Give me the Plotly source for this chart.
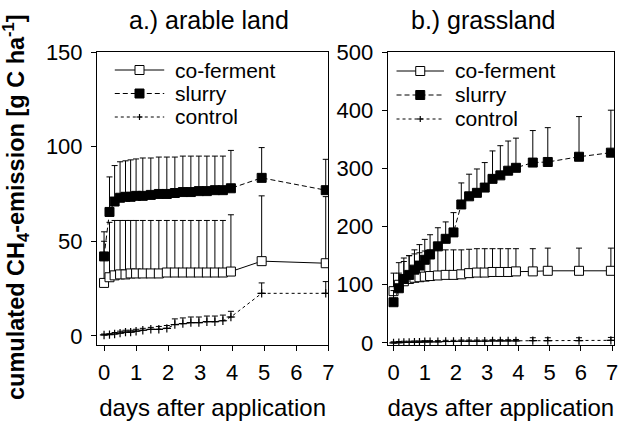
import plotly.graph_objects as go
from plotly.subplots import make_subplots

# ---------- data: a.) arable land ----------
days_a = [0, 0.17, 0.33, 0.5, 0.67, 0.83, 1.0, 1.21, 1.46, 1.71, 1.96, 2.21, 2.46,
          2.71, 2.96, 3.21, 3.46, 3.71, 3.96, 4.92, 6.92]
cof_a = [28, 31, 32, 32.5, 32.5, 33, 33, 33, 33, 33, 33.5, 33.5, 33.5, 33.5, 33.5,
         33.5, 33.5, 33.5, 34, 39.5, 38.4]
cof_a_top = [55, 60, 61, 61, 61, 61, 61, 61, 61, 61, 61, 61, 61, 61, 61, 61, 61, 61,
             64, 74, 73.6]
slu_a = [42, 65.5, 71, 73, 73.5, 73.5, 74, 74, 74.5, 75, 75, 75.5, 76, 76, 76.5,
         76.5, 77, 77, 78, 83.5, 77]
slu_a_top = [50, 84, 90, 92, 92.5, 93, 93.5, 94, 94, 94.5, 94.5, 94.5, 95, 95, 95,
             95, 95, 95, 98, 99.5, 93.3]
con_a = [0.5, 0.7, 1, 1.5, 2, 2, 2.5, 3, 3.5, 3.5, 4, 6, 6.5, 7, 7, 7.5, 7.5, 8, 10,
         22.5, 22.5]
con_a_top = [1, 1.2, 1.8, 2.5, 3, 3, 3.5, 4, 4.5, 5, 5.5, 9, 9.5, 10, 10, 10.5, 10.5,
             11, 13, 28, 28.7]

# ---------- data: b.) grassland ----------
days_b = [0, 0.17, 0.33, 0.5, 0.67, 0.83, 1.0, 1.17, 1.42, 1.67, 1.92, 2.17, 2.42,
          2.67, 2.92, 3.17, 3.42, 3.67, 3.92, 4.46, 4.94, 5.94, 6.96]
cof_b = [89, 100, 106, 110, 112, 113, 114, 115, 116, 117, 117, 118, 120, 121, 121,
         122, 122, 122, 123, 123, 124, 124, 124]
cof_b_top = [120, 138, 146, 150, 153, 155, 158, 160, 160, 160, 160, 160, 161, 162,
             162, 162, 162, 162, 162, 162, 163, 163, 163]
slu_b = [70, 94, 110, 117, 126, 133, 143, 152, 166, 179, 190, 238, 252, 258, 267,
         282, 288, 296, 301, 310, 311, 320, 327]
slu_b_top = [90, 120, 140, 150, 160, 169, 178, 186, 198, 208, 224, 275, 290, 299,
             310, 330, 339, 347, 352, 365, 370, 389, 400]
con_b = [0, 0.5, 1, 1, 1.5, 1.5, 2, 2, 2, 2.5, 2.5, 3, 3, 3, 3, 3.5, 3.5, 3.5, 3.5,
         4, 4, 4, 4.5]
con_b_top = [2, 2.5, 3, 3, 3.5, 3.5, 4, 4, 4, 4.5, 4.5, 5, 5, 5, 5, 5.5, 5.5, 5.5,
             6, 9, 9, 9, 9.5]

x_ticks = [0, 1, 2, 3, 4, 5, 6, 7]
y_ticks_a = [0, 50, 100, 150]
y_ticks_b = [0, 100, 200, 300, 400, 500]
series_names = ["co-ferment", "slurry", "control"]

FONT = "Liberation Sans, Arial, sans-serif"
W, H = 621, 421
ML, MR, MT, MB = 97, 1, 52, 76
PW, PH = W - ML - MR, H - MT - MB

fig = make_subplots(rows=1, cols=2, horizontal_spacing=0.1147)


def err(vals, tops):
    return dict(type="data", symmetric=False,
                array=[t - v for v, t in zip(vals, tops)],
                arrayminus=[0] * len(vals),
                color="black", thickness=1, width=3)


STYLE = {
    "co-ferment": dict(dash="solid", fill="white", sym="square"),
    "slurry": dict(dash="5px,3px", fill="black", sym="square"),
    "control": dict(dash="dot", fill="black", sym="cross-thin"),
}


def add_series(x, cof, cof_top, slu, slu_top, con, con_top, col):
    fig.add_trace(go.Scatter(
        x=x, y=con, name="control", mode="lines+markers", showlegend=False,
        line=dict(color="black", width=1, dash="dot"),
        marker=dict(symbol="cross-thin", size=6, line=dict(color="black", width=1.2)),
        error_y=err(con, con_top)), row=1, col=col)
    fig.add_trace(go.Scatter(
        x=x, y=cof, name="co-ferment", mode="lines+markers", showlegend=False,
        line=dict(color="black", width=1),
        marker=dict(symbol="square", size=9, color="white",
                    line=dict(color="black", width=1)),
        error_y=err(cof, cof_top)), row=1, col=col)
    fig.add_trace(go.Scatter(
        x=x, y=slu, name="slurry", mode="lines+markers", showlegend=False,
        line=dict(color="black", width=1, dash=STYLE["slurry"]["dash"]),
        marker=dict(symbol="square", size=9, color="black",
                    line=dict(color="black", width=1)),
        error_y=err(slu, slu_top)), row=1, col=col)


add_series(days_a, cof_a, cof_a_top, slu_a, slu_a_top, con_a, con_a_top, 1)
add_series(days_b, cof_b, cof_b_top, slu_b, slu_b_top, con_b, con_b_top, 2)

axis_common = dict(showline=True, linecolor="black", linewidth=1, mirror=True,
                   ticks="outside", ticklen=5, tickcolor="black", showgrid=False,
                   zeroline=False, tickfont=dict(family=FONT, size=22, color="black"))

fig.update_xaxes(**axis_common, tickvals=x_ticks, ticklabelstandoff=3,
                 title=dict(text="days after application",
                            font=dict(family=FONT, size=24, color="black"),
                            standoff=14))
fig.update_xaxes(range=[-0.22, 7.0], domain=[0, 0.4474], row=1, col=1)
fig.update_xaxes(range=[-0.19, 7.06], domain=[0.5621, 1], row=1, col=2)
fig.update_yaxes(**axis_common, ticklabelstandoff=4)
fig.update_yaxes(range=[-4.8, 150], tickvals=y_ticks_a, row=1, col=1)
fig.update_yaxes(range=[-3.5, 500], tickvals=y_ticks_b, row=1, col=2)


def px_x(px):
    return (px - ML) / PW


def px_y(py):
    return (MT + PH - py) / PH


shapes = []
annotations = []


def legend_block(x_line0, x_line1, x_text, rows_y):
    xm = (x_line0 + x_line1) / 2
    for name, yy in zip(series_names, rows_y):
        st = STYLE[name]
        yp = px_y(yy)
        shapes.append(dict(type="line", xref="paper", yref="paper",
                           x0=px_x(x_line0), x1=px_x(x_line1), y0=yp, y1=yp,
                           line=dict(color="black", width=1, dash=st["dash"])))
        if st["sym"] == "square":
            shapes.append(dict(type="rect", xref="paper", yref="paper",
                               xsizemode="pixel", ysizemode="pixel",
                               xanchor=px_x(xm), yanchor=yp,
                               x0=-4.5, x1=4.5, y0=-4.5, y1=4.5,
                               fillcolor=st["fill"],
                               line=dict(color="black", width=1)))
        else:
            for dx0, dx1, dy0, dy1 in [(-3, 3, 0, 0), (0, 0, -3, 3)]:
                shapes.append(dict(type="line", xref="paper", yref="paper",
                                   xsizemode="pixel", ysizemode="pixel",
                                   xanchor=px_x(xm), yanchor=yp,
                                   x0=dx0, x1=dx1, y0=dy0, y1=dy1,
                                   line=dict(color="black", width=1.2)))
        annotations.append(dict(text=name, xref="paper", yref="paper",
                                x=px_x(x_text), y=yp, xanchor="left",
                                yanchor="middle", showarrow=False,
                                font=dict(family=FONT, size=21, color="black")))


legend_block(115, 165, 174, [70, 93.5, 117])
legend_block(400, 448, 457, [71, 95, 119])

annotations += [
    dict(text="a.) arable land", xref="paper", yref="paper", x=px_x(210), y=px_y(20),
         xanchor="center", yanchor="middle", showarrow=False,
         font=dict(family=FONT, size=25, color="black")),
    dict(text="b.) grassland", xref="paper", yref="paper", x=px_x(488), y=px_y(20),
         xanchor="center", yanchor="middle", showarrow=False,
         font=dict(family=FONT, size=25, color="black")),
    dict(text="<b>cumulated CH<sub>4</sub>-emission [g C ha<sup>-1</sup>]</b>",
         xref="paper", yref="paper", x=px_x(14), y=px_y(207),
         xanchor="center", yanchor="middle", textangle=-90, showarrow=False,
         font=dict(family=FONT, size=23.5, color="black")),
]

fig.update_layout(
    width=W, height=H,
    margin=dict(l=ML, r=MR, t=MT, b=MB),
    plot_bgcolor="white", paper_bgcolor="white",
    font=dict(family=FONT, color="black"),
    showlegend=False,
    shapes=shapes,
    annotations=annotations,
)

fig.write_html("out.html",
               config={"displayModeBar": False},
               post_script="document.body.style.margin='0px';"
                           "document.body.style.overflow='hidden';")
